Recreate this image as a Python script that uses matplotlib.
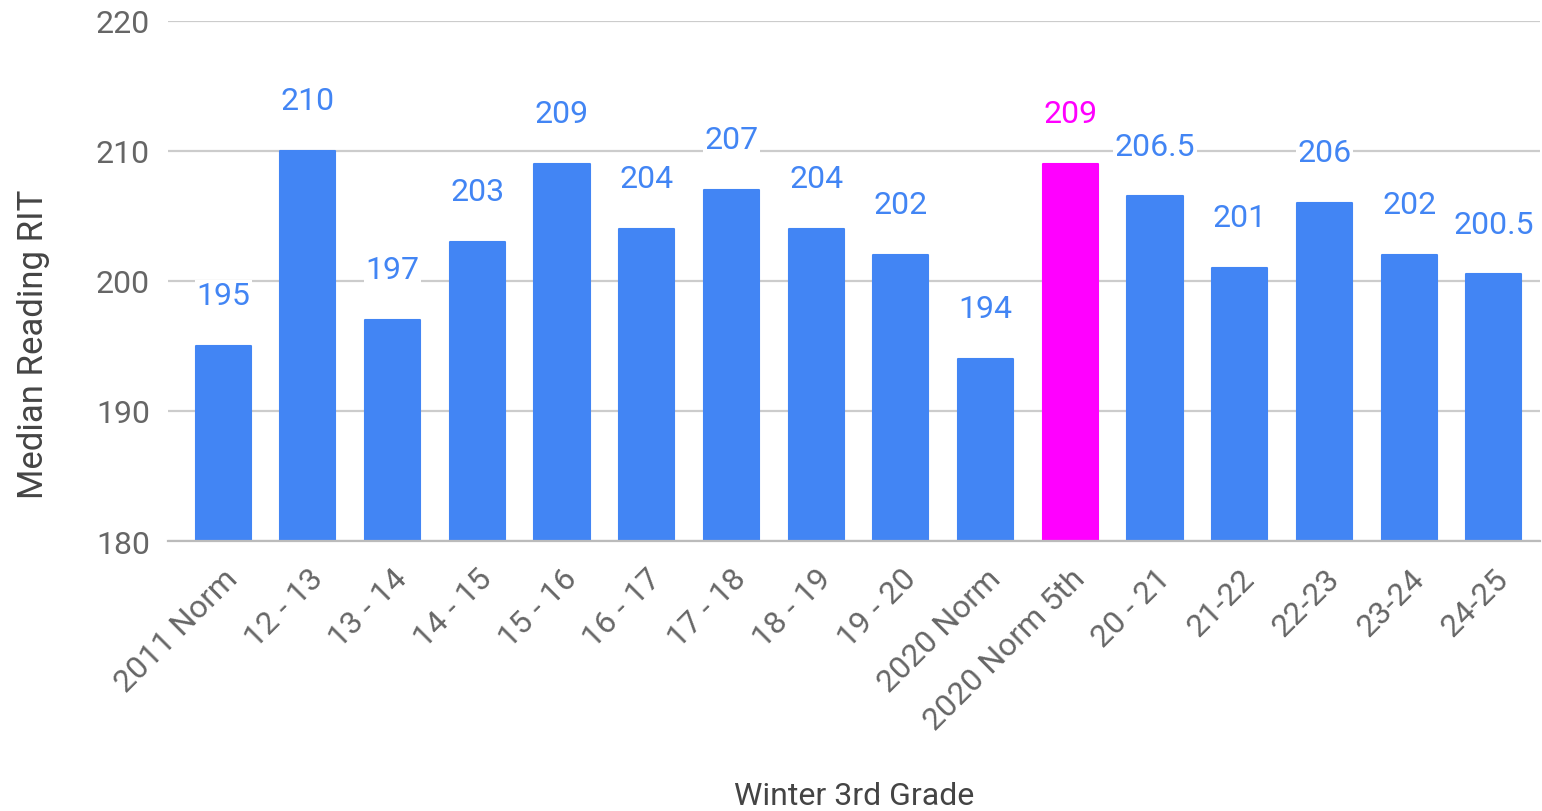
import matplotlib.pyplot as plt
import numpy as np

plt.rcParams['font.family'] = ['Roboto', 'DejaVu Sans']

categories = ['2011 Norm', '12 - 13', '13 - 14', '14 - 15', '15 - 16', '16 - 17',
              '17 - 18', '18 - 19', '19 - 20', '2020 Norm', '2020 Norm 5th',
              '20 - 21', '21-22', '22-23', '23-24', '24-25']
values = [195, 210, 197, 203, 209, 204, 207, 204, 202, 194, 209,
          206.5, 201, 206, 202, 200.5]
value_labels = ['195', '210', '197', '203', '209', '204', '207', '204', '202',
                '194', '209', '206.5', '201', '206', '202', '200.5']
highlight = '2020 Norm 5th'

blue = '#4285f4'
magenta = '#ff00ff'
grey = '#666666'

fig = plt.figure(figsize=(15.42, 8.12), dpi=100)
ax = fig.add_axes([0.109, 0.3325, 0.89, 0.6405])

x = np.arange(len(categories))
colors = [magenta if c == highlight else blue for c in categories]
bars = ax.bar(x, values, width=0.65, color=colors, edgecolor=colors,
              linewidth=1.5, joinstyle='round', zorder=3)

# value labels above bars, white box hides the gridline behind them
for xi, v, lab, col in zip(x, values, value_labels, colors):
    ax.annotate(lab, (xi, v), xytext=(0, 36), textcoords='offset points',
                ha='center', va='center', fontsize=23, color=col, zorder=4,
                bbox=dict(boxstyle='square,pad=0.05', fc='white', ec='none'))

ax.set_ylim(180, 220)
ax.set_xlim(-0.65, len(categories) - 0.45)
ax.set_yticks([180, 190, 200, 210, 220])
ax.grid(axis='y', color='#cccccc', linewidth=1.6, zorder=0)
ax.set_axisbelow(True)
for s in ['top', 'right', 'left']:
    ax.spines[s].set_visible(False)
ax.spines['bottom'].set_color('#bbbbbb')
ax.spines['bottom'].set_linewidth(1.6)
ax.spines['bottom'].set_zorder(5)

ax.set_xticks(x)
ax.set_xticklabels(categories, rotation=45, ha='right', rotation_mode='anchor')
ax.tick_params(axis='x', length=0, pad=16, labelsize=23, labelcolor=grey)
ax.tick_params(axis='y', length=0, pad=13, labelsize=23, labelcolor=grey)

fig.text(0.022, 0.576, 'Median Reading RIT', fontsize=25, color='#444444',
         rotation=90, ha='center', va='center')
fig.text(0.554, 0.009, 'Winter 3rd Grade', fontsize=23, color='#444444',
         ha='center', va='baseline')

fig.savefig('out.png', dpi=100, facecolor='white')
